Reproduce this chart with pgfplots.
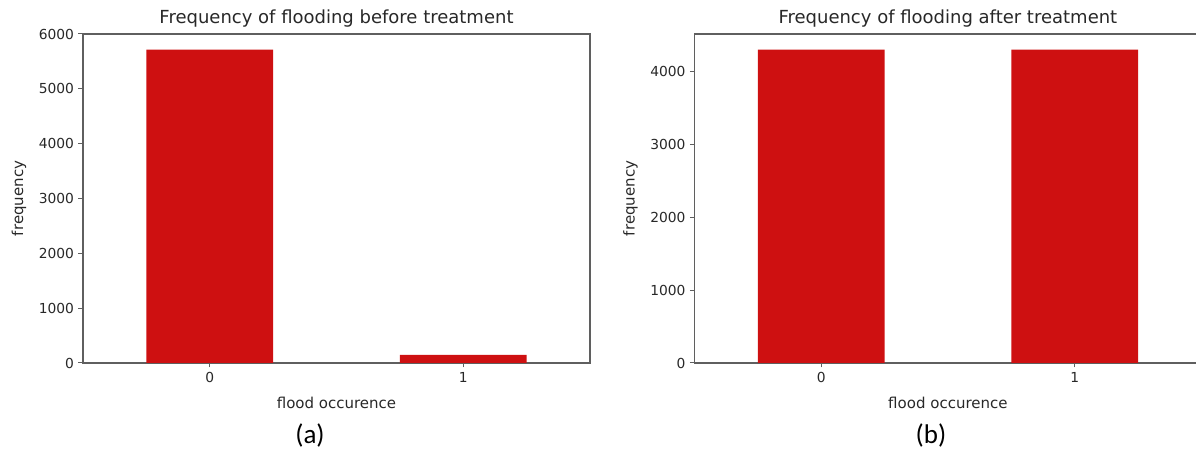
\documentclass[border=0pt]{standalone}
\usepackage{pgfplots}
\pgfplotsset{compat=1.18}
\usepackage{fontspec}
\setmainfont{DejaVu Sans}
\newfontfamily\calibri{Carlito}
\definecolor{barred}{RGB}{206,16,17}
\definecolor{spine}{RGB}{95,95,95}
\definecolor{txt}{RGB}{40,40,40}
\pgfplotsset{
  floodstyle/.style={
    scale only axis, width=507bp, height=329bp,
    xmin=-0.5, xmax=1.5, ymin=0,
    xtick={0,1}, xticklabels={0,1},
    axis line style={spine, line width=1.1bp},
    tick style={spine, line width=1bp},
    major tick length=4.5bp,
    tick align=outside, xtick pos=bottom, ytick pos=left,
    scaled ticks=false,
    /pgf/number format/1000 sep={},
    /pgf/number format/assume math mode=true,
    tick label style={font=\fontsize{13.8bp}{16bp}\selectfont, text=txt},
    yticklabel style={xshift=-1bp},
    xticklabel style={yshift=-1bp},
    label style={font=\fontsize{15bp}{18bp}\selectfont, text=txt},
    title style={font=\fontsize{18bp}{21bp}\selectfont, text=txt, at={(axis description cs:0.5,1)}, anchor=south, yshift=-3bp},
    xlabel={flood occurence},
    ylabel={frequency},
    xlabel style={at={(axis description cs:0.5,0)}, anchor=center, yshift=-40bp},
    ylabel style={at={(axis description cs:0,0.5)}, anchor=center, rotate=0, yshift=64bp},
    ybar, bar width=0.5,
  }
}
\begin{document}
\begin{tikzpicture}
\path[use as bounding box] (0bp,0bp) rectangle (1196bp,455bp);
\clip (0bp,0bp) rectangle (1196bp,455bp);
\begin{axis}[floodstyle, at={(83bp,92bp)}, anchor=south west,
  ymax=6000, ytick={0,1000,2000,3000,4000,5000,6000},
  title={Frequency of flooding before treatment}]
\addplot[fill=barred, draw=none] coordinates {(0,5714) (1,146)};
\end{axis}
\begin{axis}[floodstyle, at={(694.4bp,92bp)}, anchor=south west,
  ymax=4515, ytick={0,1000,2000,3000,4000},
  title={Frequency of flooding after treatment}]
\addplot[fill=barred, draw=none] coordinates {(0,4300) (1,4300)};
\end{axis}
\node[font=\calibri\fontsize{27bp}{30bp}\selectfont, text=black] at (310bp,20bp) {(a)};
\node[font=\calibri\fontsize{27bp}{30bp}\selectfont, text=black] at (931bp,20bp) {(b)};
\end{tikzpicture}
\end{document}
